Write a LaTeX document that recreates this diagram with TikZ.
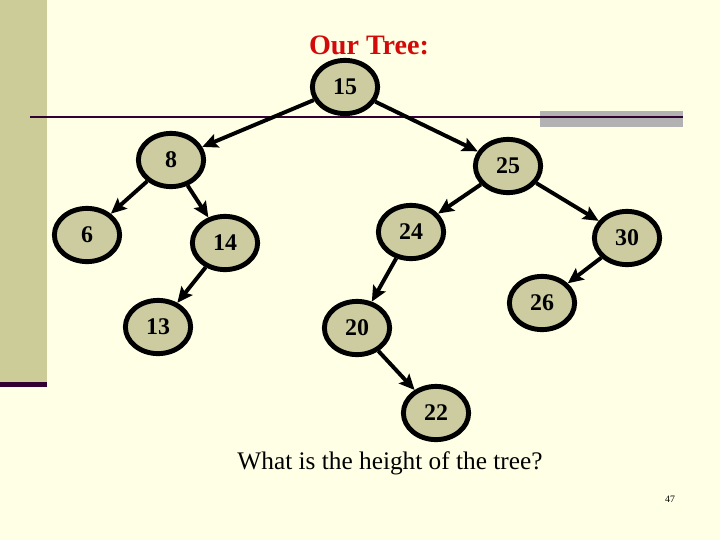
\documentclass[tikz,border=0pt]{standalone}
\usepackage{fontspec}
\setmainfont{Liberation Serif}
\usetikzlibrary{arrows.meta,shapes.geometric}
\definecolor{paper}{RGB}{255,255,229}
\definecolor{khaki}{RGB}{204,204,153}
\definecolor{nodefill}{RGB}{204,204,160}
\definecolor{plum}{RGB}{51,0,51}
\definecolor{barGray}{RGB}{178,178,178}
\definecolor{titleRed}{RGB}{210,10,10}
\tikzset{
  keynode/.style={ellipse,draw=black,fill=nodefill,line width=3.5pt,minimum width=1.63cm,minimum height=1.33cm,inner sep=0pt,font=\fontsize{17}{20}\selectfont\bfseries},
  link/.style={line width=2.8pt,-{Stealth[length=11pt,width=10pt,inset=2pt]}},
}

\begin{document}
\begin{tikzpicture}[x=0.025cm,y=-0.025cm]
\fill[paper] (0,0) rectangle (720,540);
\useasboundingbox (0,0) rectangle (720,540);
% slide decoration
\fill[khaki] (0,0) rectangle (47,383);
\fill[plum] (0,382) rectangle (47,387);
\fill[barGray] (540,111) rectangle (683,127);
\draw[plum,line width=2.1pt] (30,117) -- (683,117);
\node[font=\fontsize{20}{24}\selectfont\bfseries,text=titleRed] (title) at (369,45) {Our Tree:};
% the tree
\foreach \key/\xx/\yy in {15/345/87,8/171/160,25/508/166,6/87/235,14/225/243,24/411/232,30/627/238,13/158/327,20/357/328,26/542/303,22/436/413}
  \node[keynode] (n\key) at (\xx,\yy) {\key};
\foreach \from/\to in {15/8,15/25,8/6,8/14,14/13,25/24,25/30,24/20,30/26,20/22}
  \draw[link] (n\from) -- (n\to);
\node[font=\fontsize{18}{21}\selectfont] (question) at (390,463) {What is the height of the tree?};
\node[font=\fontsize{7}{8}\selectfont] (page) at (670,499) {47};
\end{tikzpicture}
\end{document}
